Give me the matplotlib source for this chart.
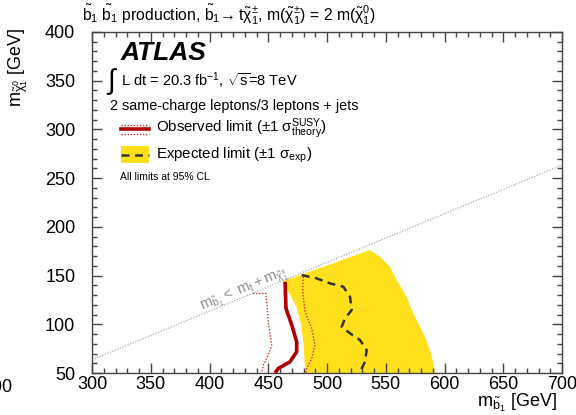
import matplotlib
matplotlib.use("Agg")
import matplotlib.pyplot as plt
from matplotlib.lines import Line2D
from matplotlib.patches import Rectangle
from matplotlib.ticker import MultipleLocator

plt.rcParams.update({
    "font.family": ["Liberation Sans", "DejaVu Sans"],
    "mathtext.fontset": "custom",
    "mathtext.rm": "Liberation Sans",
    "mathtext.it": "Liberation Sans:italic",
    "mathtext.bf": "Liberation Sans:bold",
    "mathtext.sf": "Liberation Sans",
    "mathtext.default": "regular",
})

# Observed limit and its +-1 sigma theory variations (m_sbottom, m_neutralino) in GeV
obs_x = [464.3, 465.1, 470.0, 474.2, 474.2, 468.5, 458.6, 455.7]
obs_y = [143.6, 116.3, 99.2, 82.0, 71.8, 61.5, 54.7, 50.0]
obs_dn_x = [437.0, 448.0, 449.0, 450.0, 452.9, 450.0, 445.8, 444.4]
obs_dn_y = [131.7, 131.7, 120.0, 102.6, 78.6, 68.4, 58.1, 50.0]
obs_up_x = [479.8, 479.3, 481.3, 487.0, 489.8, 487.0, 482.7, 482.0]
obs_up_y = [148.8, 133.4, 112.8, 95.8, 78.6, 65.0, 54.7, 50.0]

# Expected limit
exp_x = [478.5, 491.2, 502.6, 513.9, 519.6, 521.0, 515.3, 512.5, 519.6,
         528.1, 533.8, 532.3, 528.1, 527.0]
exp_y = [150.5, 147.1, 142.0, 138.5, 128.2, 114.6, 106.0, 97.5, 90.7,
         83.8, 73.5, 61.5, 51.2, 50.0]

# Expected +-1 sigma band: low-mass edge and high-mass edge, both listed top to bottom
band_lo_x = [462.0, 468.0, 474.0, 478.0, 480.0, 481.0, 481.5]
band_lo_y = [144.0, 132.0, 118.0, 100.0, 80.0, 60.0, 50.0]
band_hi_x = [536.6, 545.1, 553.6, 559.3, 567.8, 572.1, 577.7, 583.4,
             587.7, 590.5, 592.5]
band_hi_y = [176.2, 169.3, 159.0, 145.4, 128.2, 114.6, 100.9, 87.2,
             73.5, 59.9, 50.0]

# Kinematic boundary m_sbottom = m_top + m_chargino, with m_chargino = 2 m_neutralino
m_top = 173.0
kin_x = [300.0, 700.0]

YELLOW = "#ffe01b"
DARKRED = "#b00000"
DOTRED = "#cc3333"
DOTTED = (0, (1, 1.2))
DASHED = (0, (3.2, 2.2))

W, H = 576.0, 415.0
fig = plt.figure(figsize=(W / 100, H / 100), dpi=100)
ax = fig.add_axes([92 / W, 1 - 373 / H, 470 / W, 341 / H])
ax.set_xlim(300, 700)
ax.set_ylim(50, 400)

# expected band
band_x = band_lo_x + band_hi_x[::-1]
band_y = band_lo_y + band_hi_y[::-1]
ax.fill(band_x, band_y, color=YELLOW, lw=0, zorder=1)

# kinematic line
kin_y = [(x - m_top) / 2.0 for x in kin_x]
ax.plot(kin_x, kin_y, color="#aaaaaa", lw=0.9, ls=DOTTED, zorder=2)
ax.text(430, 134, r"$m_{\tilde{b}_1} <\ m_t + m_{\tilde{\chi}^{\pm}_1}$",
        color="#8c8c8c", fontsize=10.5, rotation=22.5, ha="center", va="center",
        rotation_mode="anchor", zorder=3)

# limits
ax.plot(obs_dn_x, obs_dn_y, color=DOTRED, lw=1.0, ls=DOTTED, zorder=4)
ax.plot(obs_up_x, obs_up_y, color=DOTRED, lw=1.0, ls=DOTTED, zorder=4)
ax.plot(exp_x, exp_y, color="#333333", lw=1.8, ls=DASHED, zorder=5)
ax.plot(obs_x, obs_y, color=DARKRED, lw=2.6, zorder=6, solid_capstyle="butt")

# axes style
ax.xaxis.set_major_locator(MultipleLocator(50))
ax.xaxis.set_minor_locator(MultipleLocator(10))
ax.yaxis.set_major_locator(MultipleLocator(50))
ax.yaxis.set_minor_locator(MultipleLocator(10))
ax.tick_params(which="both", direction="in", top=True, right=True,
               colors="#444444", labelcolor="black", width=1.0)
ax.tick_params(which="major", length=7, labelsize=13)
ax.tick_params(which="minor", length=3.5)
ax.tick_params(axis="x", pad=2)
ax.tick_params(axis="y", pad=12)
for s in ax.spines.values():
    s.set_color("#444444")
    s.set_linewidth(1.0)

# axis titles
fig.text(18 / W, 1 - 28 / H, r"$m_{\tilde{\chi}^0_1}$ [GeV]", rotation=90,
         ha="center", va="top", fontsize=13)
fig.text(557 / W, 1 - 403 / H, r"$m_{\tilde{b}_1}$ [GeV]", ha="right",
         va="center", fontsize=13)
fig.text(12 / W, 1 - 387 / H, "700", ha="right", va="center", fontsize=13)

# title
fig.text(82 / W, 1 - 15 / H,
         r"$\tilde{b}_1\ \tilde{b}_1$ production, $\tilde{b}_1\!\rightarrow t\tilde{\chi}^{\pm}_1$, "
         r"m($\tilde{\chi}^{\pm}_1$) = 2 m($\tilde{\chi}^{0}_1$)",
         ha="left", va="center", fontsize=11.3)


def fpos(px, py):
    return px / W, 1 - py / H


# annotations
fig.text(*fpos(121, 53), "ATLAS", fontsize=19, fontweight="bold",
         fontstyle="italic", ha="left", va="center")
fig.text(*fpos(106, 82), r"$\int$", fontsize=20, ha="left", va="center")
fig.text(*fpos(121, 81), r"L dt = 20.3 fb$^{-1}$, $\sqrt{s}$=8 TeV",
         fontsize=10.5, ha="left", va="center")
fig.text(*fpos(110, 106), "2 same-charge leptons/3 leptons + jets",
         fontsize=10.4, ha="left", va="center")

# legend samples
for dy, lw, ls, c in [(-4.5, 1.0, DOTTED, DOTRED), (0, 2.6, "-", DARKRED),
                      (4.5, 1.0, DOTTED, DOTRED)]:
    fig.add_artist(Line2D([121 / W, 149 / W], [1 - (129 + dy) / H] * 2,
                          color=c, lw=lw, ls=ls))
fig.text(*fpos(156, 129), r"Observed limit ($\pm$1 $\sigma^{\mathrm{SUSY}}_{\mathrm{theory}}$)",
         fontsize=10.8, ha="left", va="center")
fig.add_artist(Rectangle((121 / W, 1 - 163 / H), 28 / W, 17 / H,
                         facecolor=YELLOW, edgecolor="none"))
fig.add_artist(Line2D([121 / W, 149 / W], [1 - 155 / H] * 2, color="#333333",
                      lw=1.8, ls=DASHED))
fig.text(*fpos(156, 155), r"Expected limit ($\pm$1 $\sigma_{\mathrm{exp}}$)",
         fontsize=10.8, ha="left", va="center")
fig.text(*fpos(120, 177), "All limits at 95% CL", fontsize=7.5,
         ha="left", va="center")

fig.savefig("out.png", dpi=100)
